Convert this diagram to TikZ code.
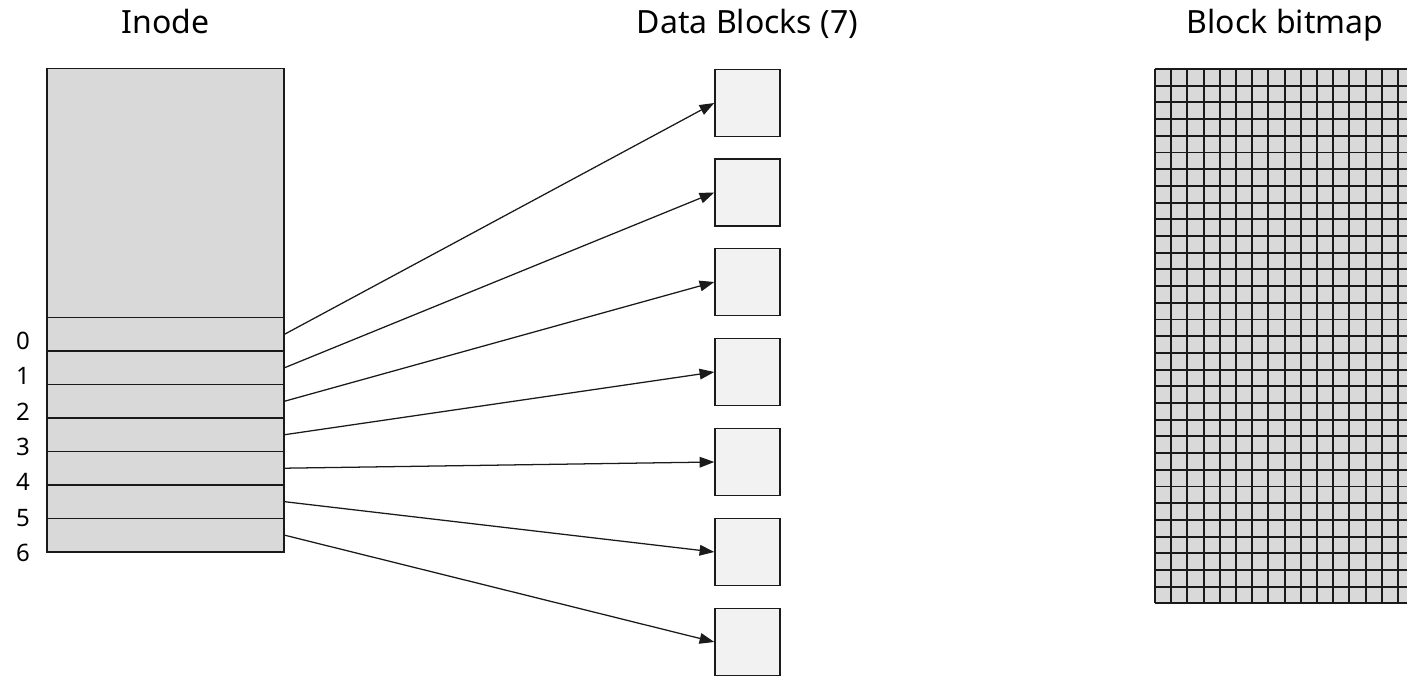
\documentclass[tikz,border=0pt]{standalone}
\usepackage{fontspec}
\setmainfont{Noto Sans}
\usetikzlibrary{arrows.meta}
\definecolor{inodegray}{HTML}{D9D9D9}
\definecolor{blockgray}{HTML}{F2F2F2}
\definecolor{edgeblack}{HTML}{1A1A1A}

\begin{document}
\begin{tikzpicture}[
    x=0.75pt, y=-0.75pt,
    title/.style={%
      anchor=base,
      font=\fontsize{24}{28}\selectfont,
    },
    index/.style={%
      anchor=base,
      font=\fontsize{18}{22}\selectfont,
    },
    slot/.style={%
      draw=edgeblack,
      line width=1pt,
      fill=inodegray,
      rectangle,
      inner sep=0pt,
      minimum width=177.75pt,
      minimum height=25.1pt,
    },
    block/.style={%
      draw=edgeblack,
      line width=1.1pt,
      fill=blockgray,
      rectangle,
      inner sep=0pt,
      minimum width=48.75pt,
      minimum height=50.25pt,
    },
    link/.style={%
      draw=edgeblack,
      line width=0.95pt,
      -{Triangle[length=11pt,width=8pt]},
    },
  ]
    \useasboundingbox (0,0) rectangle (1407,677);

    % titles
    \node [title] (tInode) at (165.5,34) {Inode};
    \node [title] (tData) at (747.5,34) {Data Blocks (7)};
    \node [title] (tMap) at (1285,34) {Block bitmap};

    % inode: header part and the seven block pointers
    \node [slot, minimum height=186.75pt] (head) at (165.5,193.25) {};
    \node [slot] (s0) at (165.5,334.2) {};
    \node [slot] (s1) at (165.5,367.7) {};
    \node [slot] (s2) at (165.5,401.2) {};
    \node [slot] (s3) at (165.5,434.7) {};
    \node [slot] (s4) at (165.5,468.2) {};
    \node [slot] (s5) at (165.5,501.7) {};
    \node [slot] (s6) at (165.5,535.2) {};

    \node [index] (i0) at (23,349.3) {0};
    \node [index] (i1) at (23,384.7) {1};
    \node [index] (i2) at (23,420.1) {2};
    \node [index] (i3) at (23,455.5) {3};
    \node [index] (i4) at (23,490.9) {4};
    \node [index] (i5) at (23,526.3) {5};
    \node [index] (i6) at (23,561.7) {6};

    % data blocks
    \node [block] (b0) at (747.5,103) {};
    \node [block] (b1) at (747.5,192.5) {};
    \node [block] (b2) at (747.5,282) {};
    \node [block] (b3) at (747.5,372) {};
    \node [block] (b4) at (747.5,462) {};
    \node [block] (b5) at (747.5,552) {};
    \node [block] (b6) at (747.5,642) {};

    \draw [link] (s0.east) -- (b0.west);
    \draw [link] (s1.east) -- (b1.west);
    \draw [link] (s2.east) -- (b2.west);
    \draw [link] (s3.east) -- (b3.west);
    \draw [link] (s4.east) -- (b4.west);
    \draw [link] (s5.east) -- (b5.west);
    \draw [link] (s6.east) -- (b6.west);

    % block bitmap, 16 x 32 cells
    \fill [inodegray] (1155,69) rectangle (1414.2,603.4);
    \foreach \c in {0,...,16}
      \draw [edgeblack, line width=1.4pt] (1155+\c*16.2,69) -- (1155+\c*16.2,603.4);
    \foreach \r in {0,...,32}
      \draw [edgeblack, line width=1.4pt] (1155,69+\r*16.7) -- (1414.2,69+\r*16.7);
\end{tikzpicture}
\end{document}
